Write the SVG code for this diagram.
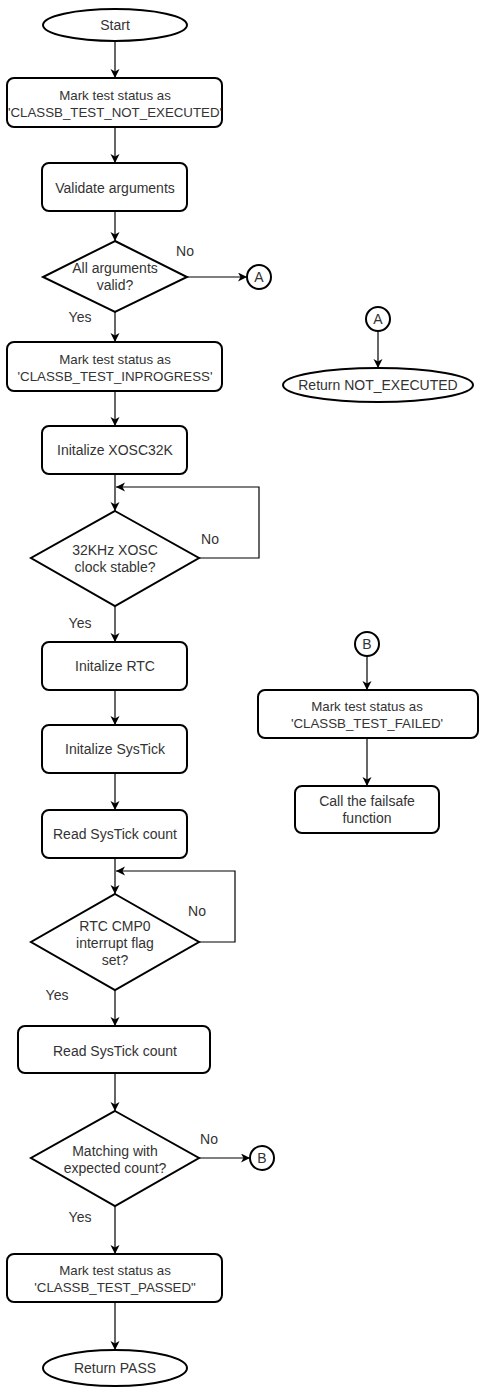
<svg xmlns="http://www.w3.org/2000/svg" width="484" height="1396" viewBox="0 0 484 1396">
<defs>
<marker id="arr" markerWidth="10" markerHeight="10" refX="9" refY="4.5" orient="auto" markerUnits="userSpaceOnUse">
<path d="M0,0 L9,4.5 L0,9 L2.5,4.5 Z" fill="#000"/>
</marker>
<style>
.s{fill:#fff;stroke:#000;stroke-width:2}
.c{fill:none;stroke:#000;stroke-width:1.2;marker-end:url(#arr)}
text{font-family:"Liberation Sans",Arial,sans-serif;font-size:14px;fill:#333;text-anchor:middle}
.m{font-size:13.3px}
</style>
</defs>
<rect width="484" height="1396" fill="#fff"/>
<g id="connectors">
<path class="c" d="M115,41 V78"/>
<path class="c" d="M115,127 V163"/>
<path class="c" d="M115,211 V241"/>
<path class="c" d="M187,277 H247"/>
<path class="c" d="M115,312 V342"/>
<path class="c" d="M378,331 V368"/>
<path class="c" d="M115,391 V426"/>
<path class="c" d="M115,474 V511"/>
<path class="c" d="M199,558 H259 V487 H116"/>
<path class="c" d="M115,606 V642"/>
<path class="c" d="M115,690 V725"/>
<path class="c" d="M115,773 V810"/>
<path class="c" d="M115,858 V894"/>
<path class="c" d="M199,942 H235 V871 H116"/>
<path class="c" d="M115,990 V1026"/>
<path class="c" d="M115,1073 V1111"/>
<path class="c" d="M199,1158 H250"/>
<path class="c" d="M115,1206 V1254"/>
<path class="c" d="M115,1302 V1350"/>
<path class="c" d="M367,656 V690"/>
<path class="c" d="M367,738 V786"/>
<text x="185" y="256">No</text>
<text x="80" y="322">Yes</text>
<text x="210" y="544">No</text>
<text x="80" y="628">Yes</text>
<text x="197" y="916">No</text>
<text x="57" y="1000">Yes</text>
<text x="209" y="1144">No</text>
<text x="80" y="1222">Yes</text>
</g>
<g id="start"><ellipse class="s" cx="115" cy="25" rx="72" ry="16"/><text x="115" y="30">Start</text></g>
<g id="mark-not-executed"><rect class="s" x="7" y="78" width="215" height="49" rx="7"/><text class="m" x="115" y="100">Mark test status as</text><text class="m" x="115" y="117">'CLASSB_TEST_NOT_EXECUTED'</text></g>
<g id="validate"><rect class="s" x="42" y="163" width="145" height="48" rx="7"/><text x="115" y="193">Validate arguments</text></g>
<g id="args-valid"><path class="s" d="M115,241 L187,277 L115,312 L43,277 Z"/><text x="115" y="273">All arguments</text><text x="115" y="290">valid?</text></g>
<g id="conn-a1"><circle class="s" cx="259" cy="277" r="12" stroke-width="1.5"/><text x="259" y="282">A</text></g>
<g id="mark-inprogress"><rect class="s" x="7" y="342" width="215" height="49" rx="7"/><text class="m" x="115" y="364">Mark test status as</text><text class="m" x="115" y="381">'CLASSB_TEST_INPROGRESS'</text></g>
<g id="conn-a2"><circle class="s" cx="378" cy="319" r="12" stroke-width="1.5"/><text x="378" y="324">A</text></g>
<g id="return-not-executed"><ellipse class="s" cx="378" cy="385" rx="95" ry="17"/><text x="378" y="390">Return NOT_EXECUTED</text></g>
<g id="init-xosc"><rect class="s" x="42" y="426" width="145" height="48" rx="7"/><text x="115" y="455">Initalize XOSC32K</text></g>
<g id="xosc-stable"><path class="s" d="M115,511 L199,558 L115,606 L31,558 Z"/><text x="115" y="555">32KHz XOSC</text><text x="115" y="572">clock stable?</text></g>
<g id="init-rtc"><rect class="s" x="42" y="642" width="145" height="48" rx="7"/><text x="115" y="671">Initalize RTC</text></g>
<g id="init-systick"><rect class="s" x="42" y="725" width="145" height="48" rx="7"/><text x="115" y="754">Initalize SysTick</text></g>
<g id="read-systick-1"><rect class="s" x="42" y="810" width="145" height="48" rx="7"/><text x="115" y="839">Read SysTick count</text></g>
<g id="rtc-flag"><path class="s" d="M115,894 L199,942 L115,990 L31,942 Z"/><text x="115" y="931">RTC CMP0</text><text x="115" y="948">interrupt flag</text><text x="115" y="965">set?</text></g>
<g id="read-systick-2"><rect class="s" x="18" y="1026" width="192" height="47" rx="7"/><text x="115" y="1056">Read SysTick count</text></g>
<g id="matching"><path class="s" d="M115,1111 L199,1158 L115,1206 L31,1158 Z"/><text x="115" y="1156">Matching with</text><text x="115" y="1173">expected count?</text></g>
<g id="conn-b1"><circle class="s" cx="262" cy="1158" r="12" stroke-width="1.5"/><text x="262" y="1163">B</text></g>
<g id="mark-passed"><rect class="s" x="7" y="1254" width="215" height="48" rx="7"/><text class="m" x="115" y="1275">Mark test status as</text><text class="m" x="115" y="1292">'CLASSB_TEST_PASSED"</text></g>
<g id="return-pass"><ellipse class="s" cx="115" cy="1368" rx="72" ry="18"/><text x="115" y="1373">Return PASS</text></g>
<g id="conn-b2"><circle class="s" cx="367" cy="644" r="12" stroke-width="1.5"/><text x="367" y="649">B</text></g>
<g id="mark-failed"><rect class="s" x="258" y="690" width="220" height="48" rx="7"/><text class="m" x="367" y="711">Mark test status as</text><text class="m" x="367" y="728">'CLASSB_TEST_FAILED'</text></g>
<g id="failsafe"><rect class="s" x="295" y="786" width="144" height="47" rx="7"/><text x="367" y="806">Call the failsafe</text><text x="367" y="823">function</text></g>
</svg>
